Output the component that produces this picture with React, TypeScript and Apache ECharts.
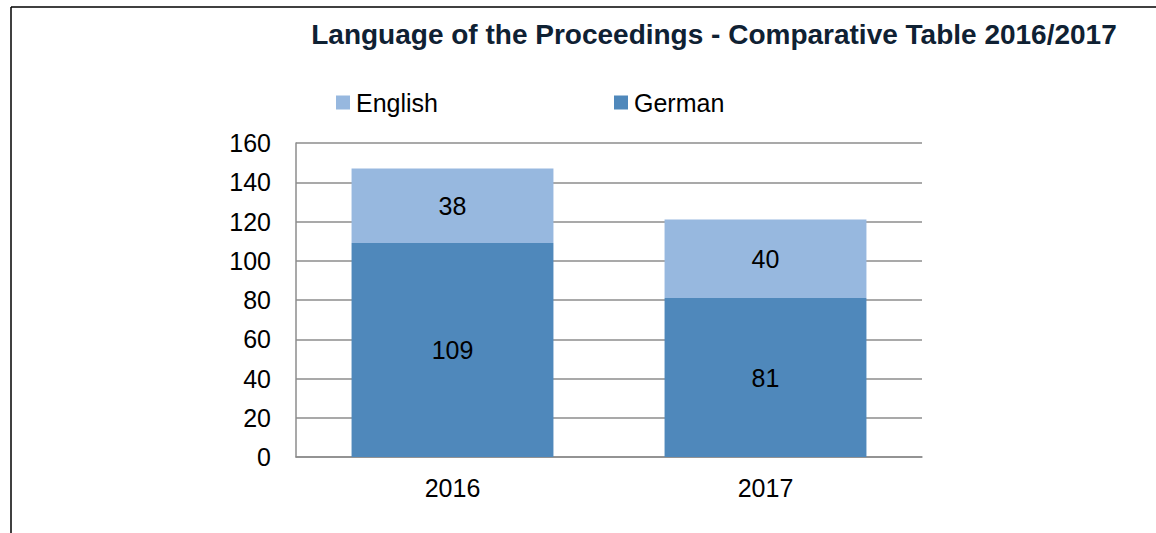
import React, { useEffect, useRef } from "react";
import * as echarts from "echarts";

const titleText = "Language of the Proceedings - Comparative Table 2016/2017";
const years = ["2016", "2017"];
const germanValues = [109, 81];
const englishValues = [38, 40];
const seriesNames = ["English", "German"];

export default function App() {
  const ref = useRef<HTMLDivElement>(null);
  useEffect(() => {
    const chart = echarts.init(ref.current!, null, { renderer: "svg" });
    const font = "Arial, 'Liberation Sans', sans-serif";
    chart.setOption({
      animation: false,
      backgroundColor: "#ffffff",
      textStyle: { fontFamily: font },
      title: {
        text: titleText,
        left: 709,
        textAlign: "center",
        top: 15,
        textStyle: { fontSize: 28, fontWeight: "bold", color: "#0F2133", fontFamily: font },
      },
      legend: {
        data: seriesNames,
        left: 331,
        top: 85,
        itemWidth: 14,
        itemHeight: 14,
        itemGap: 176,
        icon: "rect",
        textStyle: { fontSize: 25, color: "#000", fontFamily: font, padding: [0, 0, 0, 1] },
      },
      grid: { left: 296, right: 1156 - 922, top: 143, bottom: 533 - 457, containLabel: false },
      xAxis: {
        type: "category",
        data: years,
        axisLine: { lineStyle: { color: "#8C8C8C", width: 1.5 } },
        axisTick: { show: false },
        axisLabel: { fontSize: 25, color: "#000", margin: 18, fontFamily: font },
      },
      yAxis: {
        type: "value",
        min: 0,
        max: 160,
        interval: 20,
        axisLine: { show: true, lineStyle: { color: "#8C8C8C", width: 1.5 } },
        axisTick: { show: false },
        splitLine: { lineStyle: { color: "#8C8C8C", width: 1.5 } },
        axisLabel: { fontSize: 25, color: "#000", margin: 25, fontFamily: font },
      },
      graphic: [
        { type: "line", shape: { x1: 11, y1: 7, x2: 1156, y2: 7 }, style: { stroke: "#000", lineWidth: 1.5 } },
        { type: "line", shape: { x1: 11, y1: 7, x2: 11, y2: 533 }, style: { stroke: "#000", lineWidth: 1.5 } },
      ],
      series: [
        {
          name: "German",
          type: "bar",
          stack: "total",
          data: germanValues,
          barCategoryGap: "35.5%",
          itemStyle: { color: "#4F88BB" },
          label: { show: true, position: "inside", fontSize: 25, color: "#000", fontFamily: font },
        },
        {
          name: "English",
          type: "bar",
          stack: "total",
          data: englishValues,
          barCategoryGap: "35.5%",
          itemStyle: { color: "#97B8DF" },
          label: { show: true, position: "inside", fontSize: 25, color: "#000", fontFamily: font },
        },
      ],
    });
    return () => chart.dispose();
  }, []);
  return <div ref={ref} style={{ position: "fixed", left: 0, top: 0, width: 1156, height: 533 }} />;
}
